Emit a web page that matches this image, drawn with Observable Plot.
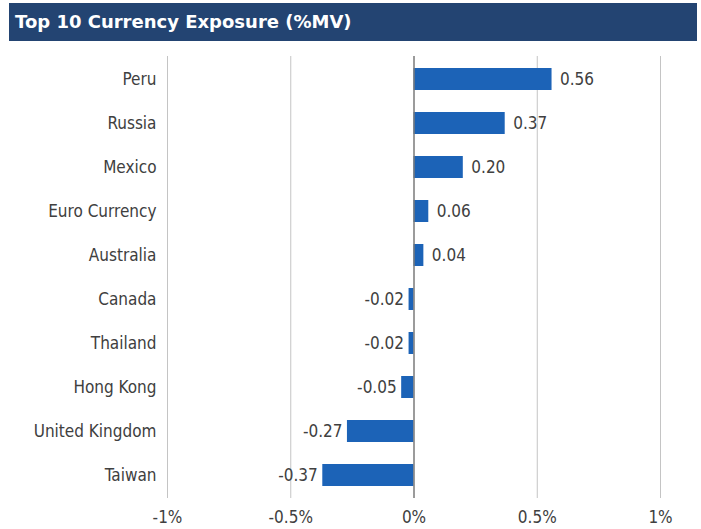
<!DOCTYPE html>
<html>
<head>
<meta charset="utf-8">
<script src="https://cdn.jsdelivr.net/npm/d3@7"></script>
<script src="https://cdn.jsdelivr.net/npm/@observablehq/plot@0.6"></script>
<style>
  html, body { margin: 0; padding: 0; background: #fff; }
  #title {
    position: absolute; left: 9px; top: 3px; width: 688px; height: 38px;
    background: #234472; color: #fff;
    font-family: "DejaVu Sans", sans-serif; font-weight: 700; font-size: 18px;
    line-height: 38px; padding-left: 6px; box-sizing: border-box;
  }
  #chart { position: absolute; left: 0; top: 40px; }
</style>
</head>
<body>
<div id="title">Top 10 Currency Exposure (%MV)</div>
<div id="chart"></div>
<script>
const categories = ["Peru", "Russia", "Mexico", "Euro Currency", "Australia", "Canada", "Thailand", "Hong Kong", "United Kingdom", "Taiwan"];
const values = [0.56, 0.37, 0.20, 0.06, 0.04, -0.02, -0.02, -0.05, -0.27, -0.37];
const valueLabels = ["0.56", "0.37", "0.20", "0.06", "0.04", "-0.02", "-0.02", "-0.05", "-0.27", "-0.37"];
const xTicks = [-1, -0.5, 0, 0.5, 1];
const xTickLabels = ["-1%", "-0.5%", "0%", "0.5%", "1%"];

const data = categories.map((c, i) => ({category: c, value: values[i], label: valueLabels[i]}));
const font = '"DejaVu Sans Condensed", "Roboto", sans-serif';
const fmt = (d) => xTickLabels[xTicks.indexOf(d)];

const chart = Plot.plot({
  width: 701,
  height: 489,
  marginLeft: 167,
  marginRight: 41,
  marginTop: 16,
  marginBottom: 31,
  style: {fontFamily: font, fontSize: "17px", color: "#404040", background: "transparent"},
  x: {domain: [-1, 1], label: null},
  y: {domain: categories, label: null, paddingInner: 0.5, paddingOuter: 0.25},
  marks: [
    Plot.gridX(xTicks.filter(d => d !== 0), {stroke: "#c4c4c4", strokeOpacity: 1, strokeWidth: 1}),
    Plot.barX(data, {x: "value", y: "category", fill: "#1c63b7"}),
    Plot.ruleX([0], {stroke: "#7a7a7a", strokeWidth: 1.5}),
    Plot.text(data.filter(d => d.value >= 0), {x: "value", y: "category", text: "label",
      textAnchor: "start", dx: 8, fill: "#404040", fontSize: 17}),
    Plot.text(data.filter(d => d.value < 0), {x: "value", y: "category", text: "label",
      textAnchor: "end", dx: -5, fill: "#404040", fontSize: 17}),
    Plot.axisX({ticks: xTicks, tickFormat: fmt, tickSize: 0, tickPadding: 12, label: null}),
    Plot.axisY({tickSize: 0, tickPadding: 11, label: null})
  ]
});
document.getElementById("chart").appendChild(chart);
</script>
</body>
</html>
